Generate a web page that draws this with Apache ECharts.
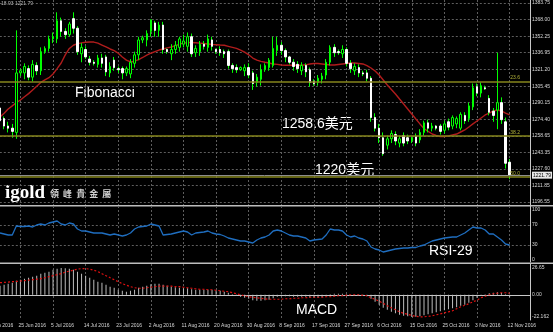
<!DOCTYPE html>
<html><head><meta charset="utf-8">
<script src="https://cdn.jsdelivr.net/npm/echarts@6/dist/echarts.min.js"></script>
<style>html,body{margin:0;padding:0;background:#000;}#c{width:553px;height:332px;}</style>
</head><body><div id="c"></div><script>
// ---- data ----
const firstCategoryDate = '2016-06-16';
const categoryCount = 134;
const dataStartLabel = '20 Jun 2016';
const dateTickLabels = ['16 Jun 2016','25 Jun 2016','5 Jul 2016','14 Jul 2016','23 Jul 2016','2 Aug 2016','11 Aug 2016','20 Aug 2016','30 Aug 2016','8 Sep 2016','17 Sep 2016','27 Sep 2016','6 Oct 2016','15 Oct 2016','25 Oct 2016','3 Nov 2016','12 Nov 2016'];
// [open, close, low, high]
const ohlc = [
[1285,1273,1271,1287],[1275,1268,1265,1277],[1268,1266,1262,1272],[1266,1263,1257,1270],[1262,1318,1256,1358],
[1318,1320,1315,1322],[1318,1324,1312,1327],[1322,1314,1311,1325],[1314,1326,1310,1330],[1325,1320,1316,1328],
[1320,1338,1316,1342],[1338,1341,1336,1343],[1341,1350,1338,1353],[1350,1352,1346,1356],[1350,1367,1346,1375],
[1367,1357,1352,1370],[1357,1354,1350,1360],[1354,1364,1352,1366],[1369,1360,1355,1375],[1360,1338,1335,1362],
[1336,1342,1328,1346],[1340,1333,1331,1343],[1331,1328,1325,1334],[1328,1327,1325,1330],[1326,1332,1323,1335],
[1332,1327,1323,1336],[1333,1319,1315,1335],[1318,1324,1314,1328],[1330,1323,1320,1333],[1322,1321,1318,1324],
[1322,1318,1312,1324],[1318,1322,1315,1324],[1317,1328,1313,1331],[1327,1335,1323,1338],[1335,1349,1330,1352],
[1349,1351,1346,1353],[1349,1355,1343,1358],[1357,1368,1352,1368],[1365,1358,1352,1367],[1358,1363,1352,1366],
[1363,1340,1336,1366],[1340,1338,1336,1341],[1336,1340,1330,1345],[1340,1344,1336,1348],[1342,1350,1338,1352],
[1345,1348,1342,1354],[1343,1352,1338,1356],[1352,1336,1333,1355],[1337,1341,1333,1344],[1338,1345,1334,1348],
[1345,1343,1340,1348],[1342,1350,1338,1354],[1349,1343,1339,1352],[1340,1338,1336,1341],[1340,1337,1334,1343],
[1338,1336,1332,1340],[1338,1325,1322,1340],[1325,1322,1318,1327],[1323,1321,1318,1326],[1321,1323,1320,1324],
[1320,1323,1315,1326],[1323,1316,1313,1327],[1318,1308,1302,1320],[1309,1314,1305,1317],[1312,1321,1306,1326],
[1321,1325,1319,1327],[1323,1330,1320,1332],[1325,1341,1323,1352],[1339,1344,1334,1352],[1344,1339,1335,1347],
[1339,1333,1328,1341],[1333,1328,1326,1334],[1328,1324,1320,1331],[1326,1322,1318,1329],[1320,1325,1316,1328],
[1325,1319,1314,1327],[1321,1309,1305,1323],[1310,1308,1306,1312],[1309,1313,1306,1316],[1312,1315,1308,1318],
[1316,1328,1312,1331],[1328,1342,1325,1344],[1342,1337,1333,1345],[1338,1337,1335,1340],[1336,1340,1332,1344],
[1340,1327,1324,1342],[1327,1322,1318,1330],[1320,1324,1316,1327],[1323,1318,1314,1326],[1318,1317,1315,1320],
[1318,1313,1310,1321],[1313,1276,1272,1315],[1276,1266,1263,1280],[1266,1257,1252,1270],[1257,1242,1240,1262],
[1250,1256,1246,1259],[1256,1261,1252,1264],[1260,1254,1250,1263],[1252,1256,1248,1259],[1259,1252,1249,1262],
[1257,1254,1251,1260],[1254,1257,1252,1258],[1258,1252,1249,1261],[1255,1262,1252,1265],[1262,1271,1259,1273],
[1271,1266,1262,1274],[1266,1268,1263,1271],[1268,1266,1264,1269],[1268,1263,1260,1270],[1264,1270,1261,1273],
[1272,1267,1264,1275],[1268,1276,1265,1278],[1270,1275,1266,1277],[1266,1279,1264,1281],[1278,1273,1270,1281],
[1275,1287,1272,1290],[1286,1304,1283,1308],[1305,1299,1296,1308],[1299,1306,1295,1309],[1304,1303,1302,1306],
[1294,1281,1278,1297],[1282,1278,1272,1285],[1283,1290,1265,1337],[1290,1274,1270,1295],[1272,1233,1228,1276],
[1234,1221.79,1218,1237]
];
const maValues = [1276.5,1280,1284,1287,1290,1292.5,1295.5,1298.5,1302,1305.5,1309,1311.5,1313.5,1317,1322,1327.3,1335,1341,1344,1345.5,
1346.2,1346.8,1347,1347,1346,1344.2,1342.4,1340.5,1339,1336.5,1333,1330,1328.3,1329,1330.5,1332.5,1334.8,1336.5,1338,1339.5,
1340.5,1341.5,1342.4,1343.5,1345,1346,1346.5,1346.6,1346.4,1346,1345.6,1345.2,1344.8,1344.5,1344.2,1344,1343,1342,1341,1339.5,
1337.5,1335,1332,1330,1328.8,1328,1327.3,1326.4,1326,1325.4,1325.2,1325.2,1325.2,1325.2,1325.2,1325.6,1326.4,1326.9,1326.9,1326.4,
1325.9,1325.4,1325.4,1325.9,1326.4,1326.9,1327.3,1327.3,1326.9,1326.4,1324.9,1322.6,1319.8,1316,1311.3,1306.6,1302.4,1298.2,1293.4,1288.7,
1284,1279.3,1274.6,1270,1265.7,1262.9,1260.5,1259.1,1258.1,1258.1,1258.7,1259.6,1260.5,1262.4,1264.3,1267.1,1270,1272.8,1275.6,1278.4,
1280.2,1282.2,1283.1,1282.2,1280.2,1278.4];
const rsiValues = [54,52,50,50,68,67,67,68,66,70,72,70,74,76,78,72,70,74,72,62,58,58,56,54,54,54,52,50,52,50,
48,50,54,62,66,67,68,72,70,68,50,51,52,54,56,58,56,50,54,55,56,58,54,52,51,48,44,42,40,38,
38,36,34,40,44,46,50,58,60,58,54,50,48,48,46,44,38,40,41,42,50,62,60,60,58,50,46,48,44,42,
38,26,22,20,16,18,20,22,23,24,24,25,25,28,30,34,38,40,42,44,45,46,46,50,54,60,66,64,64,60,
52,52,46,40,32,30];
const macdHist = [9,10,11,12,14,15,16,17,18,19,21,22,23,25,26,26.65,26.5,26,25,23,21,19,17,15,13,12,10,8,7,5,
4,3,4,5,7,8,9,10.5,11,11,10,9,8,7.5,7,6.5,6.5,5.5,5,5,5,5,5,4.5,4,3,2,0.5,-1,-2,
-3,-4,-5.5,-6,-6,-5.5,-5,-3.5,-2,-1.5,-1.5,-1.5,-2,-2,-2,-2,-3,-3,-3,-2.5,-1.5,0.5,1,1,1,0.5,0,-0.5,-0.5,-1,
-1.5,-4,-7,-10,-13,-15,-17,-18.5,-20,-21,-21.5,-22.162,-22,-21.5,-20.5,-19.5,-18.5,-17.5,-16.5,-15.5,-14.5,-13.5,-12.5,-11,-10,-8,-5.5,-3,-1,0.5,
1.5,2,2.5,2,0.5,-2.5];
const macdSignal = [12,12.3,12.6,13,13.3,13.7,14,14.5,15,15.5,16,17,18,19,20,21,22.5,23.5,24.5,25.5,
26,26,25.5,24.5,23,21,19,17,15,13,11,9.5,8,7,6.5,6.5,7,7.5,8,8.5,
8.5,8.5,8.5,8,8,7.5,7,6.5,6,5.5,5.5,5,5,4.5,4,3.5,3,2,1,0,
-1,-2,-2.5,-3,-3.5,-4,-4.5,-4.5,-4.5,-4.5,-4,-4,-3.5,-3.5,-3,-3,-2.5,-2.5,-2.5,-2.5,
-2,-2,-1.5,-1,-1,-0.5,0,0,0,-0.5,-1,-3,-4.5,-6.5,-8.5,-11,-13,-15,-17,-18.5,
-19.5,-20.5,-21.5,-22,-22,-21.5,-21,-20,-19,-18,-17,-16,-14,-12,-10.5,-9,-7,-5.5,-3,-1.5,
0,1,1.5,2,2,1.5];
const priceTicks = [1383.75,1368.00,1352.25,1336.95,1321.20,1305.45,1290.15,1274.40,1258.65,1243.35,1227.60,1211.85,1196.55];
const rsiTicks = [0,30,70,100];
const rsiLevels = [30,70];
const macdTicks = [26.65,0,-22.162];
const macdTickLabels = ['26.65','0.00','-22.162'];
const fibLevels = [1310.0,1258.6,1220.0];
const fibNames = ['23.6','38.2','50.0'];
const lastPrice = 1221.79;

// ---- build ----
const MONTHS = ['Jan','Feb','Mar','Apr','May','Jun','Jul','Aug','Sep','Oct','Nov','Dec'];
const categories = [];
(function(){
  const p = firstCategoryDate.split('-').map(Number);
  const d = new Date(Date.UTC(p[0], p[1]-1, p[2]));
  while (categories.length < categoryCount) {
    if (d.getUTCDay() !== 0) categories.push(d.getUTCDate() + ' ' + MONTHS[d.getUTCMonth()] + ' ' + d.getUTCFullYear());
    d.setUTCDate(d.getUTCDate() + 1);
  }
})();
const lead = categories.indexOf(dataStartLabel);
const pad = arr => new Array(lead).fill('-').concat(arr);
const labelSet = new Set(dateTickLabels);
const isTick = (i) => labelSet.has(categories[i]);
const bodies = ohlc.map(r => [r[0], r[1], Math.min(r[0], r[1]), Math.max(r[0], r[1])]);

const GRID_LEFT = -12.2, GRID_W = 542.2;
const gridColor = '#5e5e5e';
const labelColor = '#d8d8d8';
const FONT = 'Liberation Sans, Arial, sans-serif';

function xAxisFor(gi, bottom) {
  return {
    type: 'category', gridIndex: gi, data: categories, boundaryGap: false,
    axisTick: { show: false },
    axisLine: { show: bottom, lineStyle: { color: '#c8c8c8', width: 1 } },
    axisLabel: bottom ? { show: true, interval: (i) => isTick(i), align: 'left', fontSize: 5, fontFamily: FONT, color: labelColor, margin: 3, padding: [0,0,0,-2], hideOverlap: false, showMinLabel: true, showMaxLabel: true } : { show: false },
    splitLine: { show: true, interval: (i) => isTick(i), lineStyle: { color: gridColor, type: [2, 2], width: 1 } }
  };
}
const gridBase = { left: GRID_LEFT, width: GRID_W, containLabel: false, outerBoundsMode: 'none' };

const option = {
  backgroundColor: '#000',
  animation: false,
  grid: [
    Object.assign({ top: 0, height: 205 }, gridBase),
    Object.assign({ top: 206, height: 56 }, gridBase),
    Object.assign({ top: 264, height: 56 }, gridBase)
  ],
  xAxis: [xAxisFor(0, false), xAxisFor(1, false), xAxisFor(2, true)],
  yAxis: [
    { type: 'value', gridIndex: 0, position: 'right', min: 1193.73, max: 1386.57,
      axisLine: { show: true, lineStyle: { color: '#c8c8c8' } },
      axisTick: { show: false, customValues: priceTicks },
      axisLabel: { customValues: priceTicks, formatter: v => v.toFixed(2), fontSize: 5, fontFamily: FONT, color: labelColor, margin: 2 },
      splitLine: { show: true, lineStyle: { color: gridColor, type: [2, 2], width: 1 } } },
    { type: 'value', gridIndex: 1, position: 'right', min: -4, max: 108,
      axisLine: { show: true, lineStyle: { color: '#c8c8c8' } },
      axisTick: { show: false, customValues: rsiLevels },
      axisLabel: { customValues: rsiTicks, formatter: v => String(v), fontSize: 5, fontFamily: FONT, color: labelColor, margin: 2 },
      splitLine: { show: true, lineStyle: { color: gridColor, type: [2, 2], width: 1 } } },
    { type: 'value', gridIndex: 2, position: 'right', min: -25.15, max: 30.63,
      axisLine: { show: true, lineStyle: { color: '#c8c8c8' } },
      axisTick: { show: false, customValues: macdTicks },
      axisLabel: { customValues: macdTicks, formatter: v => macdTickLabels[macdTicks.indexOf(v)] ?? String(v), fontSize: 5, fontFamily: FONT, color: labelColor, margin: 2 },
      splitLine: { show: false } }
  ],
  series: [
    { type: 'line', name: 'MA', xAxisIndex: 0, yAxisIndex: 0, data: pad(maValues), showSymbol: false, symbol: 'none',
      lineStyle: { color: '#b01c1c', width: 1.4 }, z: 2 },
    { type: 'candlestick', name: 'wick', xAxisIndex: 0, yAxisIndex: 0, data: pad(ohlc), barWidth: 1,
      itemStyle: { color: '#00ff00', color0: '#00ff00', borderColor: '#00ff00', borderColor0: '#00ff00', borderWidth: 1 }, z: 3,
      markLine: { silent: true, symbol: ['none', 'none'], animation: false,
        data: [{ yAxis: lastPrice }],
        lineStyle: { color: '#8c8c8c', width: 1, type: 'solid' },
        label: { position: 'end', formatter: lastPrice.toFixed(2), fontSize: 5, fontFamily: FONT, color: '#000', backgroundColor: '#e8e8e8', padding: [1, 1], distance: 2 } } },
    { type: 'candlestick', name: 'body', xAxisIndex: 0, yAxisIndex: 0, data: pad(bodies), barWidth: 2,
      itemStyle: { color: '#000', color0: '#ffffff', borderColor: '#00ff00', borderColor0: '#ffffff', borderWidth: 1 }, z: 4,
      markLine: { silent: true, symbol: ['none', 'none'], animation: false,
        data: fibLevels.map((v, i) => ({ yAxis: v, label: { formatter: fibNames[i] } })),
        lineStyle: { color: '#86861c', width: 1.6, type: 'solid' },
        label: { position: 'insideEndTop', fontSize: 5, fontFamily: FONT, color: '#b4b43a', distance: [10, 1] } } },
    { type: 'line', name: 'RSI', xAxisIndex: 1, yAxisIndex: 1, data: pad(rsiValues), showSymbol: false, symbol: 'none',
      lineStyle: { color: '#1f6ec0', width: 1.3 } },
    { type: 'bar', name: 'MACD', xAxisIndex: 2, yAxisIndex: 2, data: pad(macdHist), barWidth: 1,
      itemStyle: { color: '#bdbdbd' } },
    { type: 'line', name: 'Signal', xAxisIndex: 2, yAxisIndex: 2, data: pad(macdSignal), showSymbol: false, symbol: 'none',
      lineStyle: { color: '#e01010', width: 1.2, type: [2, 2] } }
  ],
  graphic: [
    { type: 'rect', left: 0, top: 205, shape: { width: 553, height: 1.5 }, style: { fill: '#bdbdbd' }, silent: true },
    { type: 'rect', left: 0, top: 262.5, shape: { width: 553, height: 1.5 }, style: { fill: '#bdbdbd' }, silent: true },
    { type: 'text', left: 1, top: 1, style: { text: '18.93 1221.79', fill: '#bdbdbd', font: '5px ' + FONT } },
    { type: 'text', left: 75, top: 86, style: { text: 'Fibonacci', fill: '#ffffff', font: '14px ' + FONT } },
    { type: 'text', left: 282, top: 117, style: { text: '1258.6美元', fill: '#ffffff', font: '14px Liberation Sans, Noto Sans CJK SC, sans-serif' } },
    { type: 'text', left: 315, top: 163, style: { text: '1220美元', fill: '#ffffff', font: '14px Liberation Sans, Noto Sans CJK SC, sans-serif' } },
    { type: 'text', left: 429, top: 244, style: { text: 'RSI-29', fill: '#ffffff', font: '14px ' + FONT } },
    { type: 'text', left: 296, top: 303, style: { text: 'MACD', fill: '#ffffff', font: '14px ' + FONT } },
    { type: 'text', left: 5, top: 184, style: { text: 'igold', fill: '#ffffff', font: 'bold 19px Liberation Serif, serif', shadowColor: '#555', shadowBlur: 2, shadowOffsetX: 1, shadowOffsetY: 1 } },
    { type: 'text', left: 50, top: 189, style: { text: '領  峰  貴  金  屬', fill: '#d0d0d0', font: 'bold 9px Noto Sans CJK TC, sans-serif' } }
  ]
};
const chart = echarts.init(document.getElementById('c'), null, { renderer: 'canvas', width: 553, height: 332 });
chart.setOption(option);
</script></body></html>
